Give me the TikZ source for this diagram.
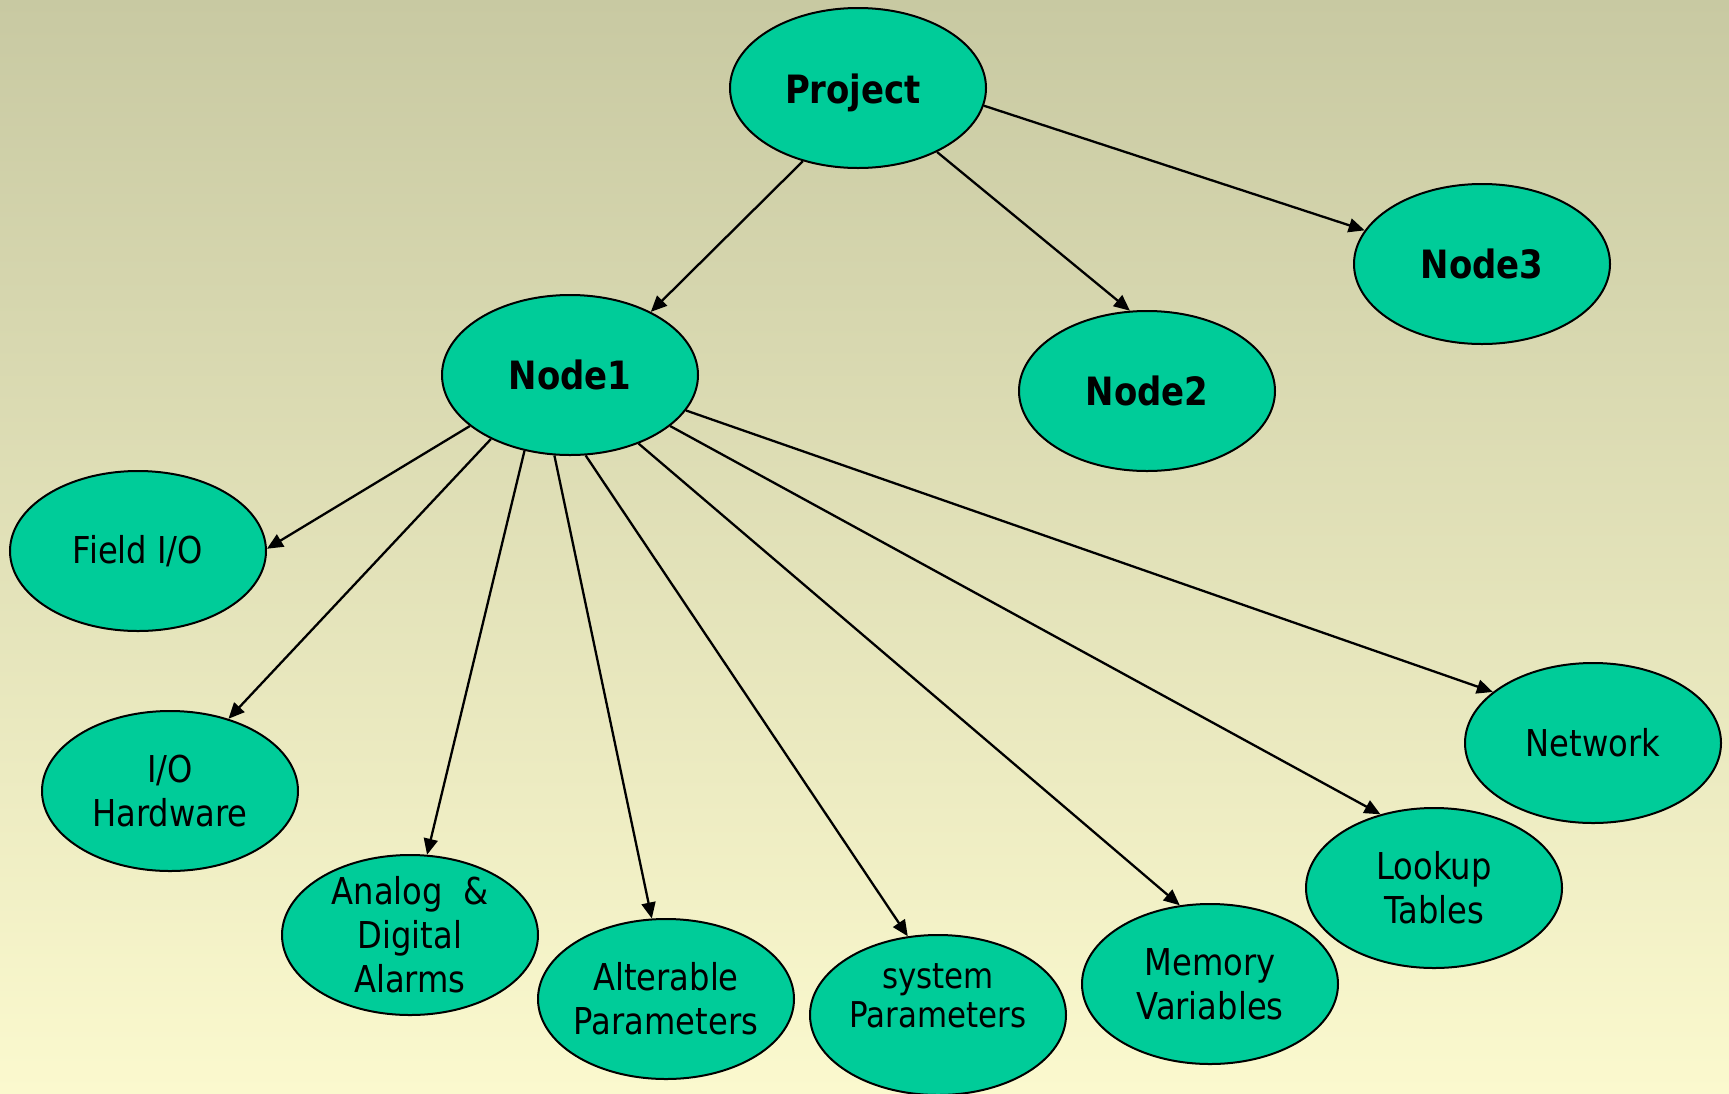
\documentclass[tikz,border=0pt]{standalone}
\usepackage{fontspec}
\setmainfont{DejaVu Sans}[FakeStretch=0.87]
\usetikzlibrary{shapes.geometric,arrows.meta}
\definecolor{bgtop}{RGB}{200,201,162}
\definecolor{bgbot}{RGB}{251,249,206}
\definecolor{mint}{RGB}{0,204,153}
\begin{document}
\begin{tikzpicture}[x=1pt,y=-1pt,
  bubble/.style={ellipse, draw=black, line width=2pt, fill=mint,
    minimum width=256pt, minimum height=160pt, inner sep=0pt},
  txt/.style={align=center, inner sep=0pt, font=\fontsize{37}{44}\selectfont},
  boldtxt/.style={align=center, inner sep=0pt, font=\fontsize{39}{46}\selectfont\bfseries},
  smalltxt/.style={align=center, inner sep=0pt, font=\fontsize{35.5}{38.5}\selectfont},
  link/.style={line width=2.3pt, -{Triangle[length=16pt,width=14pt]}}]

% background
\useasboundingbox (0,0) rectangle (1729,1093);
\fill[top color=bgtop, bottom color=bgbot] (0,0) rectangle (1729,1093);

% top level
\node[bubble, label={[name=proj-t, boldtxt, xshift=-5pt, yshift=-5pt]center:Project}] (proj) at (858,88) {};
\node[bubble, label={[name=n1-t, boldtxt]center:Node1}] (n1) at (570,375) {};
\node[bubble, label={[name=n2-t, boldtxt]center:Node2}] (n2) at (1147,391) {};
\node[bubble, label={[name=n3-t, boldtxt]center:Node3}] (n3) at (1482,264) {};

% children of Node1
\node[bubble, label={[name=fio-t, txt]center:Field I/O}] (fio) at (138,551) {};
\node[bubble, label={[name=ioh-t, txt]center:I/O\\Hardware}] (ioh) at (170,791) {};
\node[bubble, label={[name=ala-t, txt]center:Analog\ \ \&\\Digital\\Alarms}] (ala) at (410,935) {};
\node[bubble, label={[name=alt-t, txt]center:Alterable\\Parameters}] (alt) at (666,999) {};
\node[bubble, label={[name=sys-t, smalltxt, yshift=19pt]center:system\\Parameters}] (sys) at (938,1015) {};
\node[bubble, label={[name=mem-t, txt]center:Memory\\Variables}] (mem) at (1210,984) {};
\node[bubble, label={[name=lut-t, txt]center:Lookup\\Tables}] (lut) at (1434,888) {};
\node[bubble, label={[name=net-t, txt]center:Network}] (net) at (1593,743) {};

% connectors
\draw[link] (proj.233) -- (n1.38);
\draw[link] (proj.321.5) -- (n2.102.5);
\draw[link] (proj.352.7) -- (n3.164.1);

\draw[link] (n1.207.3) -- (fio.1);
\draw[link] (n1.219.8) -- (ioh.51.1);
\draw[link] (n1.239.8) -- (ala.78.4);
\draw[link] (n1.259.3) -- (alt.100.9);
\draw[link] (n1.281.5) -- (sys.111.9);
\draw[link] (n1.315) -- (mem.111.7);
\draw[link] (n1.333.2) -- (lut.126.3);
\draw[link] (n1.343.8) -- (net.153.9);
\end{tikzpicture}
\end{document}
